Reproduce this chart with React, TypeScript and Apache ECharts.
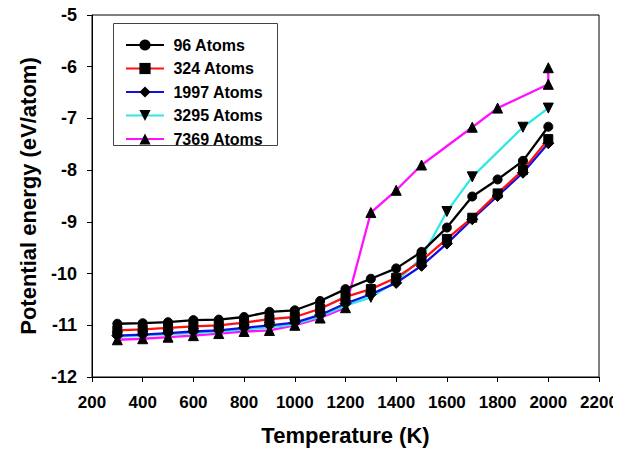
import React, { useEffect, useRef } from "react";
import * as echarts from "echarts";

const temps = [300, 400, 500, 600, 700, 800, 900, 1000, 1100, 1200, 1300, 1400, 1500, 1600, 1700, 1800, 1900, 2000];
const atoms96 = [-10.97, -10.96, -10.94, -10.9, -10.89, -10.84, -10.74, -10.71, -10.53, -10.3, -10.1, -9.9, -9.58, -9.11, -8.51, -8.18, -7.82, -7.16];
const atoms324 = [-11.1, -11.08, -11.05, -11.02, -11.0, -10.95, -10.88, -10.84, -10.68, -10.45, -10.3, -10.08, -9.75, -9.33, -8.92, -8.45, -8.0, -7.4];
const atoms1997 = [-11.2, -11.18, -11.15, -11.12, -11.1, -11.05, -11.0, -10.95, -10.8, -10.58, -10.4, -10.18, -9.85, -9.42, -8.95, -8.5, -8.05, -7.48];
const temps3295 = [300, 400, 500, 600, 700, 800, 900, 1000, 1100, 1200, 1300, 1400, 1500, 1600, 1700, 1900, 2000];
const atoms3295 = [-11.22, -11.2, -11.17, -11.15, -11.12, -11.08, -11.04, -10.98, -10.83, -10.62, -10.46, -10.15, -9.7, -8.8, -8.13, -7.17, -6.8];
const temps7369 = [300, 400, 500, 600, 700, 800, 900, 1000, 1100, 1200, 1300, 1400, 1500, 1700, 1800, 2000, 2000];
const atoms7369 = [-11.28, -11.26, -11.23, -11.2, -11.16, -11.12, -11.1, -11.0, -10.86, -10.66, -8.82, -8.39, -7.9, -7.17, -6.8, -6.34, -6.02];

const seriesNames = ["96 Atoms", "324 Atoms", "1997 Atoms", "3295 Atoms", "7369 Atoms"];
const lineColors = ["#000000", "#FF1010", "#1010E0", "#30E8E8", "#FF10FF"];

const zip = (xs: number[], ys: number[]) => xs.map((x, i) => [x, ys[i]]);

export default function App() {
  const ref = useRef<HTMLDivElement>(null);
  useEffect(() => {
    if (!ref.current) return;
    const chart = echarts.init(ref.current, undefined, { renderer: "svg" });
    const datasets = [
      zip(temps, atoms96),
      zip(temps, atoms324),
      zip(temps, atoms1997),
      zip(temps3295, atoms3295),
      zip(temps7369, atoms7369),
    ];
    const symbols = ["circle", "rect", "diamond", "triangle", "triangle"];
    const sizes = [9, 9, 11, 10, 10];
    const rotates = [0, 0, 0, 180, 0];
    const font = "'Liberation Sans', Arial, sans-serif";
    chart.setOption({
      animation: false,
      backgroundColor: "#ffffff",
      textStyle: { fontFamily: font },
      grid: {
        left: 92,
        right: 22,
        top: 15,
        bottom: 80,
        show: true,
        borderColor: "#000",
        borderWidth: 1,
        backgroundColor: "transparent",
      },
      graphic: [
        {
          type: "rect",
          z: 3,
          shape: { x: 113.5, y: 23.5, width: 164, height: 122 },
          style: { fill: "#fff", stroke: "#444", lineWidth: 1 },
        },
      ],
      legend: {
        orient: "vertical",
        left: 125,
        top: 37,
        padding: 0,
        z: 5,
        itemWidth: 38,
        itemHeight: 14,
        itemGap: 7.5,
        formatter: (name: string) => " " + name,
        textStyle: { fontSize: 16, fontWeight: "bold", color: "#000", fontFamily: font },
        data: seriesNames,
      },
      xAxis: {
        type: "value",
        min: 200,
        max: 2200,
        interval: 200,
        name: "Temperature (K)",
        nameLocation: "middle",
        nameGap: 47,
        nameTextStyle: { fontSize: 22, fontWeight: "bold", color: "#000", fontFamily: font },
        axisLine: { show: true, lineStyle: { color: "#000", width: 1 } },
        axisTick: { show: true, inside: false, length: 5, lineStyle: { color: "#000" } },
        axisLabel: {
          fontSize: 17,
          fontWeight: "bold",
          color: "#000",
          margin: 17,
          fontFamily: font,
          formatter: (v: number) => String(v),
        },
        splitLine: { show: false },
      },
      yAxis: {
        type: "value",
        min: -12,
        max: -5,
        interval: 1,
        name: "Potential energy (eV/atom)",
        nameLocation: "middle",
        nameGap: 53,
        nameTextStyle: { fontSize: 22, fontWeight: "bold", color: "#000", fontFamily: font },
        axisLine: { show: true, lineStyle: { color: "#000", width: 1 } },
        axisTick: { show: true, inside: false, length: 5, lineStyle: { color: "#000" } },
        axisLabel: {
          fontSize: 18,
          fontWeight: "bold",
          color: "#000",
          margin: 15,
          fontFamily: font,
          formatter: (v: number) => String(v),
        },
        splitLine: { show: false },
      },
      series: seriesNames.map((name, i) => ({
        name,
        type: "line",
        data: datasets[i],
        symbol: symbols[i],
        symbolSize: sizes[i],
        symbolRotate: rotates[i],
        showAllSymbol: true,
        lineStyle: { color: lineColors[i], width: 2.3 },
        itemStyle: { color: "#000", borderColor: "#000" },
        z: 10 - i,
      })),
    });
    return () => chart.dispose();
  }, []);
  return <div ref={ref} style={{ width: 621, height: 457, margin: -8 }} />;
}
